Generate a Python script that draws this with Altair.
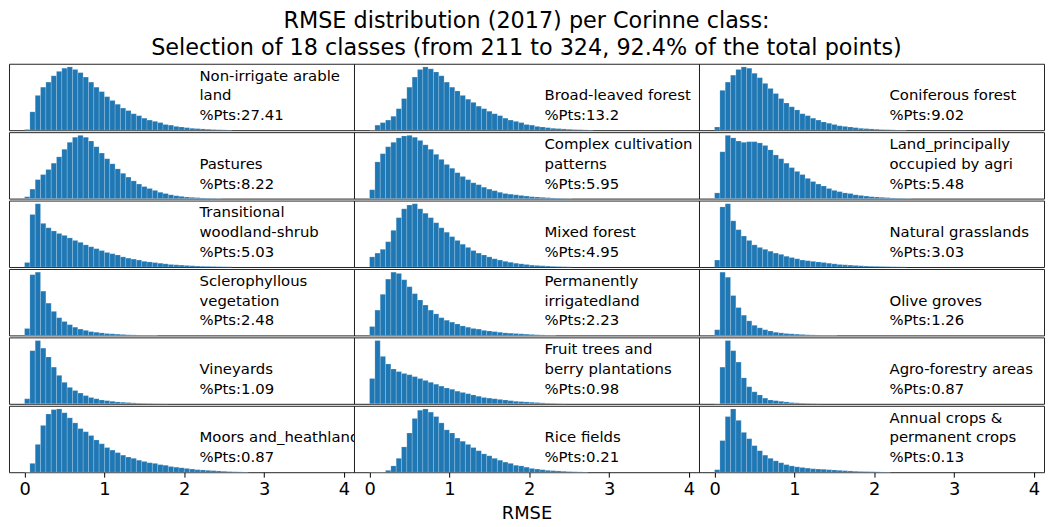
import altair as alt
import pandas as pd

# ---- data (bar heights as % of each panel's peak) ----
classes = [
    "Non-irrigate arable land", "Broad-leaved forest", "Coniferous forest",
    "Pastures", "Complex cultivation patterns", "Land_principally occupied by agri",
    "Transitional woodland-shrub", "Mixed forest", "Natural grasslands",
    "Sclerophyllous vegetation", "Permanently irrigatedland", "Olive groves",
    "Vineyards", "Fruit trees and berry plantations", "Agro-forestry areas",
    "Moors and_heathland", "Rice fields", "Annual crops & permanent crops",
]
label_lines = [
    ["Non-irrigate arable", "land", "%Pts:27.41"],
    ["Broad-leaved forest", "%Pts:13.2"],
    ["Coniferous forest", "%Pts:9.02"],
    ["Pastures", "%Pts:8.22"],
    ["Complex cultivation", "patterns", "%Pts:5.95"],
    ["Land_principally", "occupied by agri", "%Pts:5.48"],
    ["Transitional", "woodland-shrub", "%Pts:5.03"],
    ["Mixed forest", "%Pts:4.95"],
    ["Natural grasslands", "%Pts:3.03"],
    ["Sclerophyllous", "vegetation", "%Pts:2.48"],
    ["Permanently", "irrigatedland", "%Pts:2.23"],
    ["Olive groves", "%Pts:1.26"],
    ["Vineyards", "%Pts:1.09"],
    ["Fruit trees and", "berry plantations", "%Pts:0.98"],
    ["Agro-forestry areas", "%Pts:0.87"],
    ["Moors and_heathland", "%Pts:0.87"],
    ["Rice fields", "%Pts:0.21"],
    ["Annual crops &", "permanent crops", "%Pts:0.13"],
]

nonirr = [1, 29, 55, 68, 76, 86, 93, 98, 100, 96, 91, 84, 76, 68, 61, 53, 47, 41, 35, 31,
          26, 23, 19, 16, 14, 12, 9, 8, 6, 5, 4, 3, 2.5, 2, 1.5, 1, 0.7, 0.5, 0.3]
broad = [0, 8, 12, 16, 22, 34, 50, 68, 84, 96, 100, 97, 92, 86, 76, 68, 62, 55, 49, 44, 38,
         34, 30, 26, 23, 19, 16, 14, 12, 9, 8, 6, 5, 4, 3, 2.5, 2, 1.5, 1, 0.8, 0.5, 0.3]
conif = [5, 63, 76, 87, 96, 100, 98, 90, 83, 74, 66, 58, 50, 43, 37, 32, 26, 23, 19, 16,
         13, 11, 9, 7, 6, 5, 4, 3, 2.5, 2, 1.5, 1, 0.8, 0.5, 0.3, 0.2]
pastures = [3, 15, 30, 38, 46, 56, 66, 78, 89, 97, 100, 97, 91, 82, 72, 63, 55, 47,
            40, 34, 28, 23, 19, 16, 13, 10, 8, 6, 4.5, 3.5, 2.5, 2, 1.5, 1, 0.7, 0.5, 0.3]
complex_ = [14, 58, 71, 82, 89, 96, 99, 100, 97, 92, 85, 78, 70, 62, 54, 48, 41, 35, 30, 25,
            22, 18, 15, 12.5, 10, 8, 7, 6, 5, 4, 3, 2.5, 2, 1.5, 1, 0.7, 0.5, 0.3]
land = [9, 74, 100, 96, 91, 89, 90, 90, 88, 84, 77, 69, 63, 56, 49, 43, 38, 32, 27, 23,
        20, 16, 13, 11, 9, 8, 6, 5, 4, 3, 2.5, 2, 1.5, 1, 0.7, 0.5, 0.3]
transit = [7, 83, 100, 69, 62, 57, 53, 50, 46, 42, 39, 35, 32, 29, 26, 23, 21, 19, 16, 14,
           12.5, 11, 9, 8, 7, 6, 5, 4, 3.5, 3, 2.5, 2, 1.5, 1.2, 1, 0.8, 0.6, 0.4, 0.3]
mixed = [16, 22, 28, 40, 58, 78, 92, 98, 100, 92, 85, 78, 70, 62, 55, 48, 42, 36, 31, 26, 22,
         19, 16, 13, 11, 9, 7.5, 6, 5, 4, 3, 2.5, 2, 1.5, 1, 0.7, 0.5, 0.3]
natural = [11, 95, 100, 73, 59, 49, 42, 35, 31, 28, 25, 22, 20, 17, 15, 13, 11, 10, 9, 8,
           7, 6, 5, 4, 3.5, 3, 2.5, 2, 1.5, 1.2, 1, 0.8, 0.6, 0.4, 0.3, 0.2]
sclero = [11, 96, 100, 70, 51, 38, 28, 22, 17, 13, 10, 8, 6, 5, 4, 3, 2.5, 2, 1.5, 1,
          0.8, 0.6, 0.4, 0.3, 0.2]
perm = [14, 40, 65, 89, 100, 98, 88, 77, 66, 56, 48, 40, 34, 28, 24, 21, 18, 15, 13, 11, 10,
        8, 7, 6, 5, 4, 3.5, 3, 2.5, 2, 1.5, 1, 0.8, 0.5, 0.3]
olive = [9, 100, 92, 63, 44, 32, 23, 16, 12, 9, 7, 5, 4, 3, 2.5, 2, 1.5, 1, 0.8, 0.6,
         0.4, 0.3, 0.2]
vine = [8, 84, 100, 88, 74, 58, 45, 34, 26, 21, 17, 13, 10, 8, 6, 5, 4, 3, 2.5, 2,
        1.5, 1, 0.8, 0.6, 0.4, 0.3, 0.2]
fruit = [40, 100, 75, 63, 55, 51, 48, 46, 43, 40, 37, 34, 31, 28, 25, 23, 20, 18, 16, 14,
         12, 10, 9, 8, 7, 6, 5, 4, 3.5, 3, 2.5, 2, 1.5, 1, 0.8, 0.5, 0.3]
agro = [0, 58, 100, 84, 66, 41, 27, 19, 14, 9, 6, 5, 4, 3, 2, 1.5, 1, 0.7, 0.5, 0.3]
moors = [0, 14, 44, 74, 92, 99, 100, 94, 86, 78, 69, 64, 58, 51, 45, 39, 35, 31, 27, 24,
         22, 19, 17, 15, 14, 12, 11, 9, 8, 7, 6, 5, 4, 3.5, 3, 2.5, 2, 1.5, 1, 0.7, 0.5, 0.3]
rice = [0, 0, 0, 3, 10, 22, 40, 62, 85, 98, 100, 95, 88, 78, 67, 62, 54, 49, 44, 39, 34,
        29, 26, 22, 19, 16, 14, 11, 10, 8, 6, 5, 4, 3, 2.5, 2, 1.5, 1, 0.7, 0.5, 0.3]
annual = [4, 50, 88, 100, 82, 63, 53, 42, 34, 27, 22, 18, 15, 12, 10, 8.5, 7.5, 6.5, 5.5, 5,
          4.5, 4, 3.5, 3, 2.5, 2, 1.5, 1.2, 1, 0.8, 0.6, 0.4, 0.3]

series = [nonirr, broad, conif, pastures, complex_, land, transit, mixed, natural,
          sclero, perm, olive, vine, fruit, agro, moors, rice, annual]

BIN_W = 4 / 60
X_DOMAIN = [-0.195, 4.125]
TEXT_X = 2.19
W, H = 348, 67
LINE_H = 20
BLUE = "#1f77b4"
FONT = "DejaVu Sans"


def panel(i):
    r, c = divmod(i, 3)
    vals = series[i]
    df = pd.DataFrame({
        "x0": [k * BIN_W for k in range(len(vals))],
        "x1": [(k + 1) * BIN_W for k in range(len(vals))],
        "h": vals,
    })
    if r == 5:
        xaxis = alt.Axis(values=[0, 1, 2, 3, 4], format="d", labelFontSize=18,
                         labelFont=FONT, labelColor="black", tickColor="black",
                         tickSize=5, labelPadding=3, grid=False, domain=False,
                         labelFlush=False,
                         title="RMSE" if c == 1 else None, titleFontSize=18,
                         titleFont=FONT, titleFontWeight="normal",
                         titleColor="black", titlePadding=7)
    else:
        xaxis = None
    xs = alt.Scale(domain=X_DOMAIN, nice=False, zero=False)
    bars = alt.Chart(df).mark_bar(
        color=BLUE, stroke="white", strokeWidth=0.4, strokeOpacity=0.45
    ).encode(
        x=alt.X("x0:Q", scale=xs, axis=xaxis),
        x2="x1:Q",
        y=alt.Y("h:Q", scale=alt.Scale(domain=[0, 105], nice=False), axis=None),
        y2=alt.datum(0),
    )
    n_lines = len(label_lines[i])
    tdf = pd.DataFrame({"x": [TEXT_X], "t": ["\n".join(label_lines[i])]})
    txt = alt.Chart(tdf).mark_text(
        align="left", baseline="bottom", lineBreak="\n", fontSize=15, font=FONT,
        lineHeight=LINE_H, clip=True, color="black"
    ).encode(
        x=alt.X("x:Q", scale=xs, axis=xaxis),
        y=alt.value(H - 7 - (n_lines - 1) * LINE_H),
        text="t:N",
    )
    return alt.layer(bars, txt).properties(width=W, height=H)


rows = [alt.hconcat(*[panel(r * 3 + c) for c in range(3)], spacing=0, bounds="flush")
        for r in range(6)]

chart = alt.vconcat(*rows, spacing=0).properties(
    title=alt.TitleParams(
        text=["RMSE distribution (2017) per Corinne class:",
              "Selection of 18 classes (from 211 to 324, 92.4% of the total points)"],
        fontSize=22.5, font=FONT, fontWeight="normal", color="black",
        anchor="middle", offset=4, lineHeight=27,
    ),
    padding={"left": 0, "top": 0, "right": 0, "bottom": 0},
).configure_view(stroke="#222222", strokeWidth=1)

chart.save("out.html", embed_options={"renderer": "svg", "actions": False})
